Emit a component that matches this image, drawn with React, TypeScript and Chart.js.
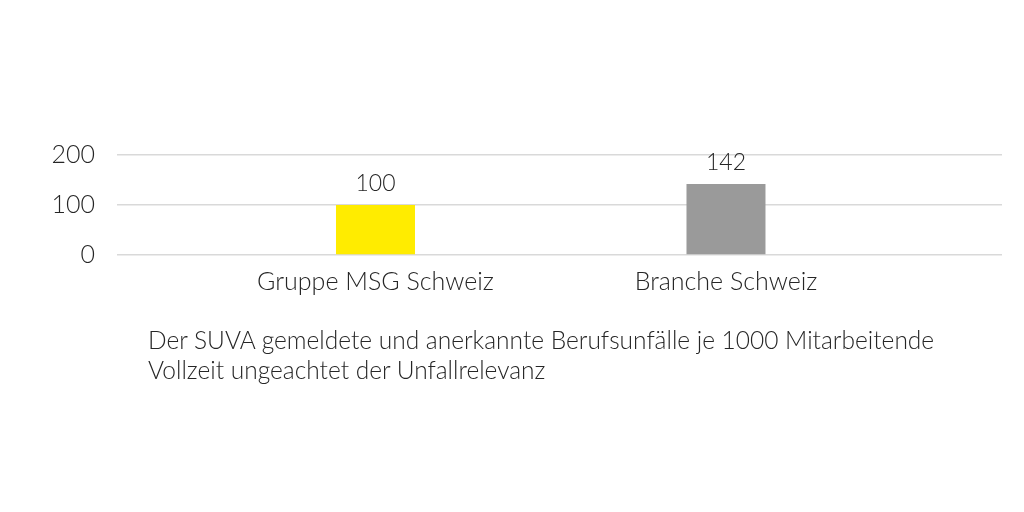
import { useEffect, useRef } from "react";
import Chart from "chart.js/auto";

const categories = ["Gruppe MSG Schweiz", "Branche Schweiz"];
const values = [100, 142];
const barColors = ["#FFEC00", "#9A9A9A"];
const yTicks = [0, 100, 200];
const captionLines = [
	"Der SUVA gemeldete und anerkannte Berufsunfälle je 1000 Mitarbeitende",
	"Vollzeit ungeachtet der Unfallrelevanz"
];

const FONT = "Lato";
const TEXT = "#262626";

const valueLabels = {
	id: "valueLabels",
	afterDatasetsDraw(chart: Chart) {
		const ctx = chart.ctx;
		const meta = chart.getDatasetMeta(0);
		ctx.save();
		ctx.font = `300 23px ${FONT}`;
		ctx.fillStyle = TEXT;
		ctx.textAlign = "center";
		ctx.textBaseline = "middle";
		meta.data.forEach((el: any, i: number) => {
			ctx.fillText(String(values[i]), el.x, el.y - 21);
		});
		ctx.restore();
	}
};

export default function App() {
	const canvasRef = useRef<HTMLCanvasElement>(null);

	useEffect(() => {
		if (!canvasRef.current) return;
		const chart = new Chart(canvasRef.current, {
			type: "bar",
			data: {
				datasets: [
					{
						data: values.map((v, i) => ({ x: i + 1, y: v })),
						backgroundColor: barColors,
						borderWidth: 0,
						categoryPercentage: 1,
						barPercentage: 0.2254
					}
				]
			},
			options: {
				animation: false,
				responsive: true,
				maintainAspectRatio: false,
				layout: { padding: { top: 155, right: 22, bottom: 197, left: 0 } },
				plugins: {
					legend: { display: false },
					tooltip: { enabled: false }
				},
				scales: {
					x: {
						type: "linear",
						offset: false,
						min: 0.2625,
						max: 2.7875,
						afterBuildTicks: (axis: any) => {
							axis.ticks = categories.map((_, i) => ({ value: i + 1 }));
						},
						afterFit: (axis: any) => {
							axis.height = 60;
						},
						grid: { display: false },
						border: { display: false },
						ticks: {
							autoSkip: false,
							maxRotation: 0,
							padding: 4,
							color: TEXT,
							font: { family: FONT, size: 25, weight: 300 },
							callback: (v: any) => categories[Number(v) - 1] ?? ""
						}
					},
					y: {
						min: yTicks[0],
						max: yTicks[yTicks.length - 1],
						afterBuildTicks: (axis: any) => {
							axis.ticks = yTicks.map((v) => ({ value: v }));
						},
						afterFit: (axis: any) => {
							axis.width = 117;
						},
						grid: { color: "#D9D9D9", lineWidth: 1.5, drawTicks: false },
						border: { display: false },
						ticks: {
							padding: 22,
							color: TEXT,
							font: { family: FONT, size: 25, weight: 300 }
						}
					}
				}
			},
			plugins: [valueLabels]
		});
		return () => chart.destroy();
	}, []);

	return (
		<div style={{ position: "absolute", left: 0, top: 0, width: 1024, height: 512, background: "#fff" }}>
			<canvas ref={canvasRef} />
			<div
				style={{
					position: "absolute",
					left: 148,
					top: 325,
					fontFamily: FONT,
					fontWeight: 300,
					fontSize: 24.5,
					lineHeight: "30px",
					color: TEXT,
					whiteSpace: "nowrap"
				}}
			>
				{captionLines.map((l) => (
					<div key={l}>{l}</div>
				))}
			</div>
		</div>
	);
}
